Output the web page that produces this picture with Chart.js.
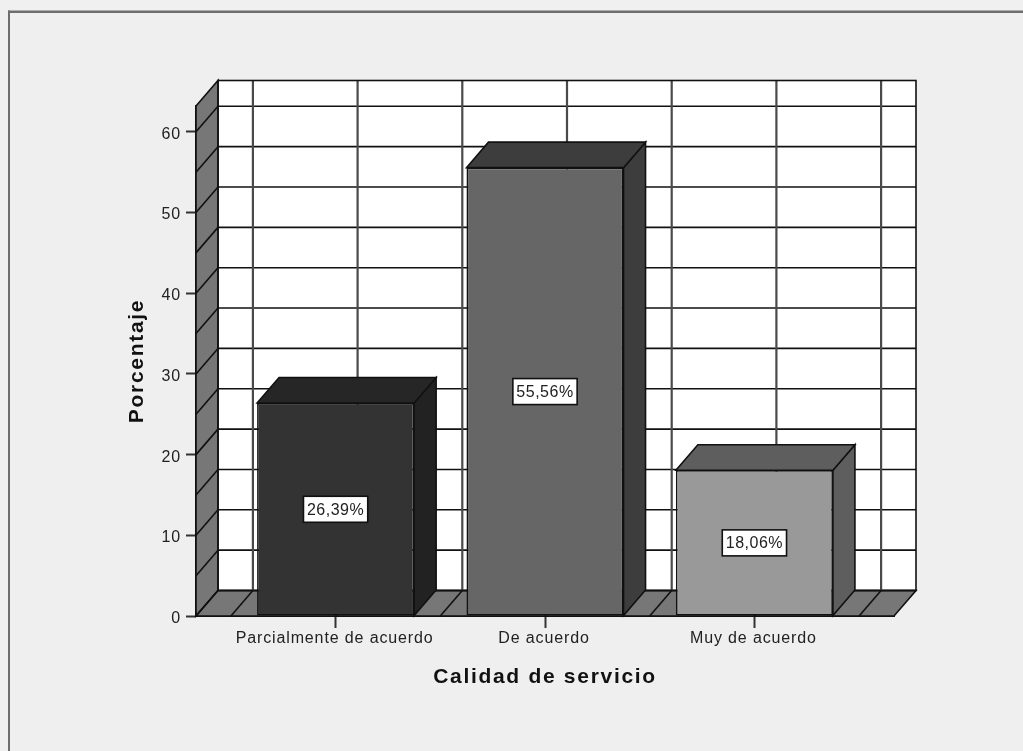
<!DOCTYPE html>
<html lang="es">
<head>
<meta charset="utf-8">
<title>Calidad de servicio</title>
<script src="https://cdn.jsdelivr.net/npm/chart.js@4"></script>
<style>
  html, body { margin: 0; background: #f0f0f0; }
  canvas { display: block; }
</style>
</head>
<body>
<canvas id="chart" width="1023" height="751"></canvas>
<script>
// ===================== Data =====================
const categories = ['Parcialmente de acuerdo', 'De acuerdo', 'Muy de acuerdo'];
const percentages = [26.39, 55.56, 18.06];
const percentLabels = ['26,39%', '55,56%', '18,06%'];
const yTickValues = [0, 10, 20, 30, 40, 50, 60];
const wallGridValues = [0, 5, 10, 15, 20, 25, 30, 35, 40, 45, 50, 55, 60];
const floorGridValues = [-0.5, 0, 0.5, 1, 1.5, 2, 2.5];
const xTitle = 'Calidad de servicio';
const yTitle = 'Porcentaje';

// ===================== Style =====================
const frontColors = ['#333333', '#666666', '#999999'];
const topColors = ['#262626', '#3d3d3d', '#5e5e5e'];
const sideColors = ['#222222', '#3d3d3d', '#5e5e5e'];
const LINE = '#111111';
const WALL = '#777777';
const FONT = '"Liberation Sans", Arial, sans-serif';
const DEPTH_X = 22;
const DEPTH_Y = 25.5;

function poly(ctx, points, fill) {
  ctx.beginPath();
  points.forEach(([x, y], i) => (i ? ctx.lineTo(x, y) : ctx.moveTo(x, y)));
  ctx.closePath();
  if (fill) {
    ctx.fillStyle = fill;
    ctx.fill();
  }
  ctx.stroke();
}

function segment(ctx, x1, y1, x2, y2) {
  ctx.beginPath();
  ctx.moveTo(x1, y1);
  ctx.lineTo(x2, y2);
  ctx.stroke();
}

// ===================== Plugin: frame, walls, 3D faces, labels =====================
const spssLook = {
  id: 'spssLook',
  beforeDraw(chart) {
    const ctx = chart.ctx;
    ctx.save();
    ctx.fillStyle = '#efefef';
    ctx.fillRect(9, 11, chart.width - 9, chart.height - 11);
    ctx.fillStyle = '#6e6e6e';
    ctx.fillRect(8, 10.5, chart.width - 8, 2.5);
    ctx.fillRect(8, 10.5, 2, chart.height - 10.5);
    ctx.restore();
    ctx.letterSpacing = '0.87px'; // tick labels in the reference are widely spaced
  },
  beforeDatasetsDraw(chart) {
    const ctx = chart.ctx;
    const { left, right, top, bottom } = chart.chartArea;
    const xs = chart.scales.x;
    const ys = chart.scales.y;
    ctx.save();
    ctx.strokeStyle = LINE;
    ctx.lineWidth = 1.6;

    // back wall, left wall, floor
    ctx.fillStyle = '#ffffff';
    ctx.fillRect(left + DEPTH_X, top - DEPTH_Y, right - left, bottom - top);
    poly(ctx, [[left, bottom], [left, top], [left + DEPTH_X, top - DEPTH_Y], [left + DEPTH_X, bottom - DEPTH_Y]], WALL);
    poly(ctx, [[left, bottom], [right, bottom], [right + DEPTH_X, bottom - DEPTH_Y], [left + DEPTH_X, bottom - DEPTH_Y]], WALL);

    wallGridValues.forEach(v => {
      const y = ys.getPixelForValue(v);
      segment(ctx, left, y, left + DEPTH_X, y - DEPTH_Y);
      segment(ctx, left + DEPTH_X, y - DEPTH_Y, right + DEPTH_X, y - DEPTH_Y);
    });
    floorGridValues.forEach(v => {
      const x = xs.getPixelForValue(v);
      segment(ctx, x, bottom, x + DEPTH_X, bottom - DEPTH_Y);
      // uprights on the back wall look softer and wider in the reference
      ctx.save();
      ctx.strokeStyle = '#4a4a4a';
      ctx.lineWidth = 2.2;
      segment(ctx, x + DEPTH_X, bottom - DEPTH_Y, x + DEPTH_X, top - DEPTH_Y);
      ctx.restore();
    });
    ctx.strokeRect(left + DEPTH_X, top - DEPTH_Y, right - left, bottom - top);

    // bar top and side faces
    chart.getDatasetMeta(0).data.forEach((bar, i) => {
      const l = bar.x - bar.width / 2;
      const r = bar.x + bar.width / 2;
      poly(ctx, [[r, bar.y], [r + DEPTH_X, bar.y - DEPTH_Y], [r + DEPTH_X, bar.base - DEPTH_Y], [r, bar.base]], sideColors[i]);
      poly(ctx, [[l, bar.y], [l + DEPTH_X, bar.y - DEPTH_Y], [r + DEPTH_X, bar.y - DEPTH_Y], [r, bar.y]], topColors[i]);
    });
    ctx.restore();
  },
  afterDatasetsDraw(chart) {
    const ctx = chart.ctx;
    ctx.save();
    ctx.font = '16px ' + FONT;
    ctx.letterSpacing = '0.5px';
    ctx.textAlign = 'center';
    ctx.textBaseline = 'middle';
    chart.getDatasetMeta(0).data.forEach((bar, i) => {
      const cy = (bar.y + bar.base) / 2;
      const w = ctx.measureText(percentLabels[i]).width + 7;
      ctx.fillStyle = '#ffffff';
      ctx.strokeStyle = LINE;
      ctx.lineWidth = 1.6;
      ctx.fillRect(bar.x - w / 2, cy - 13, w, 26);
      ctx.strokeRect(bar.x - w / 2, cy - 13, w, 26);
      ctx.fillStyle = '#222222';
      ctx.fillText(percentLabels[i], bar.x, cy + 1);
    });
    ctx.restore();
  },
  afterDraw(chart) {
    const ctx = chart.ctx;
    const { left, right, top, bottom } = chart.chartArea;
    ctx.save();
    ctx.font = 'bold 21px ' + FONT;
    ctx.letterSpacing = '1.7px';
    ctx.fillStyle = '#111111';
    ctx.textAlign = 'center';
    ctx.textBaseline = 'middle';
    ctx.fillText(xTitle, (left + right) / 2, 677);
    ctx.translate(137, (top + bottom) / 2);
    ctx.rotate(-Math.PI / 2);
    ctx.fillText(yTitle, 0, 0);
    ctx.restore();
    ctx.letterSpacing = '0px';
  },
};

// ===================== Chart =====================
new Chart(document.getElementById('chart'), {
  type: 'bar',
  data: {
    datasets: [{
      data: categories.map((c, i) => ({ x: i, y: percentages[i] })),
      backgroundColor: frontColors,
      borderColor: LINE,
      borderWidth: 1.6,
      borderSkipped: false,
      categoryPercentage: 1,
      barPercentage: 0.75,
      clip: false,
    }],
  },
  options: {
    responsive: false,
    animation: false,
    layout: { padding: { top: 106, right: 129, bottom: 0, left: 0 } },
    plugins: { legend: { display: false }, tooltip: { enabled: false } },
    scales: {
      x: {
        type: 'linear',
        offset: false,
        min: -2 / 3,
        max: 2 + 2 / 3,
        afterBuildTicks: axis => { axis.ticks = categories.map((c, i) => ({ value: i })); },
        afterFit: axis => { axis.height = 135; },
        grid: { offset: false, drawOnChartArea: false, drawTicks: true, tickLength: 12, tickWidth: 2, tickColor: '#333333' },
        border: { display: true, color: LINE, width: 2 },
        ticks: {
          autoSkip: false,
          maxRotation: 0,
          padding: 1,
          labelOffset: -1,
          color: '#222222',
          font: { family: FONT, size: 16 },
          callback: v => categories[v],
        },
      },
      y: {
        min: 0,
        max: 63.2,
        afterBuildTicks: axis => { axis.ticks = yTickValues.map(value => ({ value })); },
        afterFit: axis => { axis.width = 196; },
        grid: { drawOnChartArea: false, drawTicks: true, tickLength: 10, tickWidth: 2, tickColor: '#333333' },
        border: { display: true, color: LINE, width: 2 },
        ticks: {
          padding: 5,
          labelOffset: 2.5,
          color: '#222222',
          font: { family: FONT, size: 16 },
        },
      },
    },
  },
  plugins: [spssLook],
});
</script>
</body>
</html>
